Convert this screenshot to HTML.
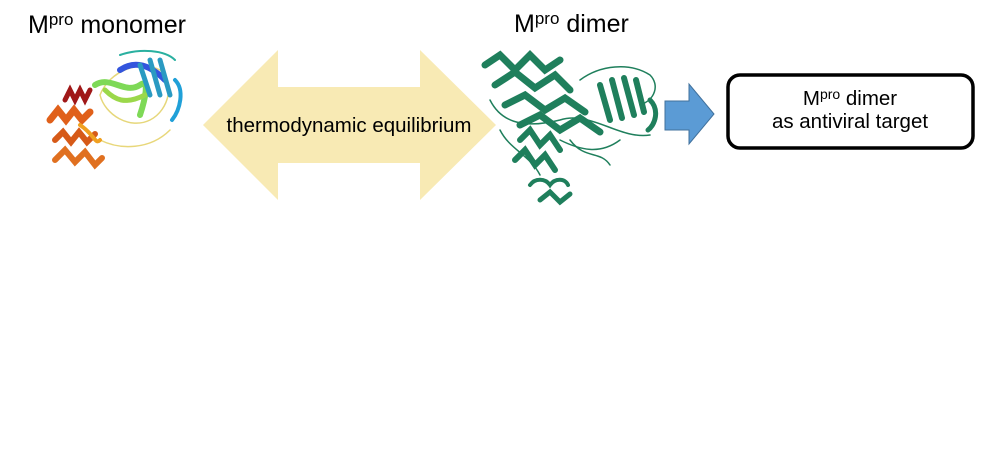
<!DOCTYPE html>
<html><head><style>
body{margin:0;background:#fff;width:998px;height:460px;overflow:hidden;font-family:"Liberation Sans",sans-serif;}
</style></head><body>
<svg width="998" height="460" xmlns="http://www.w3.org/2000/svg" style="position:absolute;left:0;top:0">
<rect width="998" height="460" fill="#fff"/>
<polygon points="203,125 278,50 278,87 420,87 420,50 496,125 420,200 420,163 278,163 278,200" fill="#f8eab4"/>
<text x="349" y="132" font-size="20.5" text-anchor="middle" fill="#000" font-family="Liberation Sans">thermodynamic equilibrium</text>
<polygon points="665,101 689,101 689,84 714,114 689,144 689,130 665,130" fill="#5b9bd5" stroke="#41719c" stroke-width="1"/>
<rect x="728" y="75" width="245" height="73" rx="12" fill="#fff" stroke="#000" stroke-width="3.5"/>
<text x="850" y="105" font-size="20.5" text-anchor="middle" font-family="Liberation Sans">M<tspan font-size="14" dy="-6">pro</tspan><tspan dy="6"> dimer</tspan></text>
<text x="850" y="128" font-size="20.5" text-anchor="middle" font-family="Liberation Sans">as antiviral target</text>
<text x="28" y="33" font-size="25" font-family="Liberation Sans">M<tspan font-size="17" dy="-8">pro</tspan><tspan dy="8"> monomer</tspan></text>
<text x="514" y="32" font-size="25" font-family="Liberation Sans">M<tspan font-size="17" dy="-8">pro</tspan><tspan dy="8"> dimer</tspan></text>
<g fill="none" stroke-linecap="round">
<path d="M100,95 C110,70 140,60 160,70 C175,80 170,110 150,120 C130,130 105,115 100,95Z" stroke="#e6d77a" stroke-width="1.5"/>
<path d="M95,85 C110,75 125,95 140,85 C150,78 145,100 140,115" stroke="#7ed957" stroke-width="6"/>
<path d="M105,90 C115,100 125,105 145,95" stroke="#9bd84a" stroke-width="5"/>
<path d="M120,70 C135,60 150,65 165,80" stroke="#3355dd" stroke-width="6"/>
<path d="M150,60 L160,95 M160,60 L170,95 M140,65 L150,95" stroke="#2a9ac2" stroke-width="5"/>
<path d="M175,80 C185,90 180,110 172,120" stroke="#20a0d8" stroke-width="4"/>
<path d="M120,55 C140,48 165,50 175,60" stroke="#2ab0a0" stroke-width="2"/>
<path d="M65,100 L70,90 L75,100 L80,90 L85,100 L90,90" stroke="#a01818" stroke-width="5"/>
<path d="M50,120 L58,110 L66,120 L74,110 L82,120 L90,112" stroke="#e0601a" stroke-width="7"/>
<path d="M55,140 L63,132 L71,142 L79,132 L87,142 L95,134" stroke="#d65a18" stroke-width="6"/>
<path d="M55,160 L65,150 L75,162 L85,152 L95,165 L102,158" stroke="#e07020" stroke-width="6"/>
<path d="M100,140 C120,150 150,150 170,130" stroke="#e8d77a" stroke-width="1.5"/>
<path d="M80,125 C95,135 95,145 100,140" stroke="#f0a020" stroke-width="4"/>
</g>
<g fill="none" stroke="#1f7f5c" stroke-linecap="round">
<path d="M485,65 L500,55 L515,70 L530,55 L545,70 L560,60" stroke-width="7"/>
<path d="M495,85 L515,72 L535,88 L555,75 L570,90" stroke-width="7"/>
<path d="M505,105 L525,95 L545,110 L565,98 L585,112" stroke-width="7"/>
<path d="M520,125 L540,115 L560,130 L580,118 L600,132" stroke-width="7"/>
<path d="M600,85 L610,120 M612,80 L622,118 M624,78 L634,115 M636,80 L644,112" stroke-width="6"/>
<path d="M650,100 C660,110 655,125 648,130" stroke-width="5"/>
<path d="M520,140 L530,130 L540,145 L550,135 L560,150" stroke-width="6"/>
<path d="M515,160 L525,150 L535,165 L545,155 L555,170" stroke-width="6"/>
<path d="M530,185 C535,178 545,178 550,185 C555,178 565,178 568,185" stroke-width="4"/>
<path d="M540,200 L550,192 L560,202 L570,194" stroke-width="5"/>
<path d="M490,100 C500,120 520,130 560,120 C590,110 620,140 650,135" stroke-width="1.5"/>
<path d="M580,80 C600,65 630,62 650,75 C660,85 655,100 640,105" stroke-width="1.5"/>
<path d="M560,140 C580,150 600,155 620,140" stroke-width="1.5"/>
<path d="M500,130 C510,150 530,155 540,175 M570,140 C585,160 600,150 610,165" stroke-width="1.5"/>
</g>
</svg>
</body></html>
